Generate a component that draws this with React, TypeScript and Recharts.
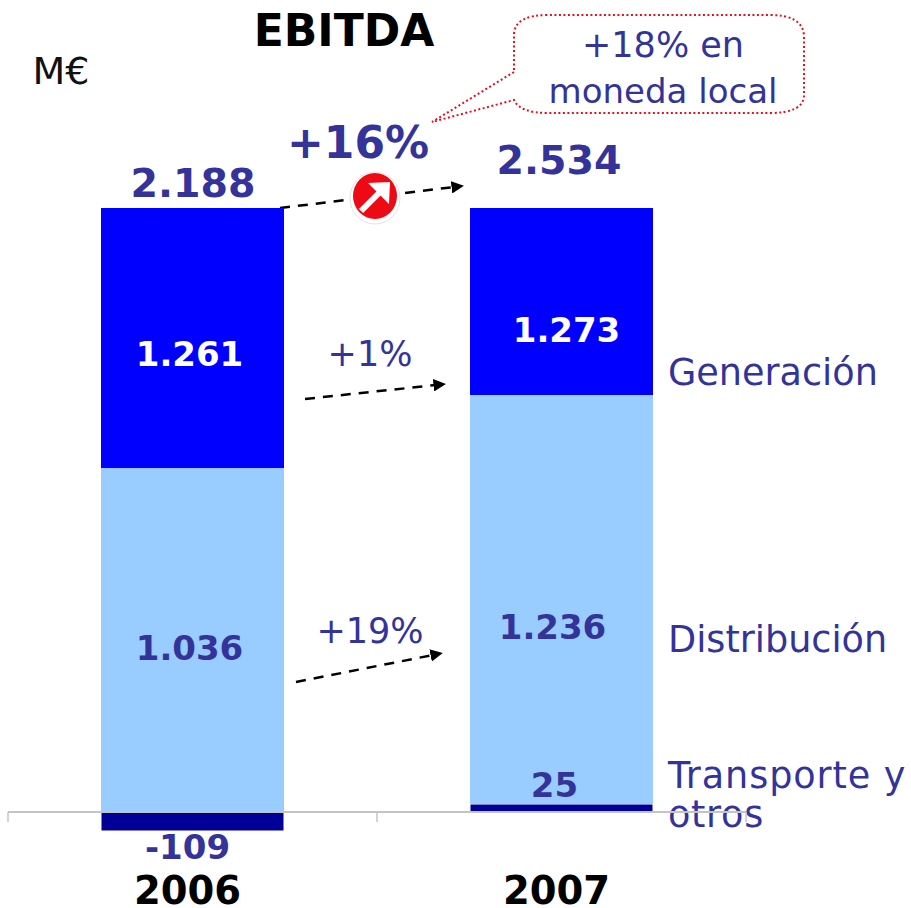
import { BarChart, Bar, XAxis, YAxis, LabelList, ReferenceLine } from 'recharts'

const FONT = '"DejaVu Sans", Verdana, sans-serif'
const INK = '#333399'

const categories = ['2006', '2007']

// The source slide's bars are not drawn to scale against their printed figures,
// so segment lengths (as measured on the picture) and printed labels are kept apart.
const generacionLength = [260, 187]
const distribucionLength = [344, 409]
const transporteLength = [-19, 8]

const generacionLabels = ['1.261', '1.273']
const distribucionLabels = ['1.036', '1.236']
const transporteLabels = ['-109', '25']

const slotCentres = [0.5, 1.5]
const slotTicks = [0, 1, 2]

const data = categories.map((name, i) => ({
  name,
  slot: slotCentres[i],
  generacion: generacionLength[i],
  distribucion: distribucionLength[i],
  transporte: transporteLength[i],
  generacionLabel: generacionLabels[i],
  distribucionLabel: distribucionLabels[i],
  transporteLabel: transporteLabels[i],
}))

// label nudge from the segment centre, per category
const segmentLabel =
  (color: string, dx: number[], dy: number[]) =>
  (props: any) => {
    const { x, y, width, height, value, index } = props
    return (
      <text
        x={x + width / 2 + dx[index]}
        y={y + height / 2 + dy[index]}
        textAnchor="middle"
        dominantBaseline="central"
        fontFamily={FONT}
        fontWeight="bold"
        fontSize={34}
        fill={color}
      >
        {value}
      </text>
    )
  }

const YearTick = ({ x, y, payload }: any) => (
  <text x={x - 5} y={y + 25} textAnchor="middle" fontFamily={FONT} fontWeight="bold" fontSize={38.5} fill="#000">
    {payload.value}
  </text>
)

const Arrow = ({ x1, y1, x2, y2 }: { x1: number; y1: number; x2: number; y2: number }) => (
  <line
    x1={x1}
    y1={y1}
    x2={x2}
    y2={y2}
    stroke="#000"
    strokeWidth={2.5}
    strokeDasharray="10 8"
    markerEnd="url(#arrowHead)"
  />
)

const Txt = ({ x, y, size, bold, anchor, fill, spacing, children }: any) => (
  <text
    x={x}
    y={y}
    fontFamily={FONT}
    fontSize={size}
    fontWeight={bold ? 'bold' : 'normal'}
    textAnchor={anchor ?? 'middle'}
    fill={fill ?? INK}
    letterSpacing={spacing}
  >
    {children}
  </text>
)

export default function App() {
  return (
    <div style={{ position: 'absolute', left: 0, top: 0, width: 911, height: 908, background: '#fff' }}>
      <BarChart
        width={911}
        height={908}
        data={data}
        stackOffset="sign"
        barSize={183}
        margin={{ top: 208, right: 165, bottom: 0, left: 8 }}
      >
        <defs>
          <marker id="arrowHead" markerWidth="6" markerHeight="5" refX="1" refY="2.5" orient="auto">
            <path d="M0 0 L5 2.5 L0 5 Z" fill="#000" />
          </marker>
        </defs>
        <XAxis
          xAxisId="cat"
          dataKey="name"
          height={77}
          axisLine={false}
          tickLine={false}
          tickMargin={42}
          interval={0}
          tick={<YearTick />}
        />
        <XAxis xAxisId="slots" dataKey="slot" type="number" domain={[0, 2]} allowDataOverflow hide />
        <YAxis hide domain={[-19, 604]} />

        <Bar xAxisId="cat" dataKey="transporte" stackId="a" fill="#000099" stroke="#fff" strokeWidth={1} isAnimationActive={false}>
          <LabelList dataKey="transporteLabel" content={segmentLabel(INK, [-5, -7], [25, -23])} />
        </Bar>
        <Bar xAxisId="cat" dataKey="distribucion" stackId="a" fill="#99ccff" isAnimationActive={false}>
          <LabelList dataKey="distribucionLabel" content={segmentLabel(INK, [-3, -9], [8, 27])} />
        </Bar>
        <Bar xAxisId="cat" dataKey="generacion" stackId="a" fill="#0000ff" isAnimationActive={false}>
          <LabelList dataKey="generacionLabel" content={segmentLabel('#fff', [-3, 5], [16, 28])} />
        </Bar>

        <ReferenceLine xAxisId="cat" y={0} stroke="#c4c4c4" strokeWidth={2} ifOverflow="visible" />
        {slotTicks.map((t) => (
          <ReferenceLine
            key={t}
            xAxisId="slots"
            segment={[
              { x: t, y: 0 },
              { x: t, y: -10 },
            ]}
            stroke="#c4c4c4"
            strokeWidth={1.5}
            ifOverflow="visible"
          />
        ))}

        <Txt x={344} y={46} size={44} bold fill="#000">EBITDA</Txt>
        <Txt x={61} y={84} size={38} fill="#111">M€</Txt>
        <Txt x={193} y={197} size={39.5} bold>2.188</Txt>
        <Txt x={559} y={174} size={39.5} bold>2.534</Txt>
        <Txt x={358} y={158} size={44} bold>+16%</Txt>
        <Txt x={370} y={366} size={35}>+1%</Txt>
        <Txt x={370} y={643} size={35}>+19%</Txt>

        <Txt x={668} y={385} size={36.6} anchor="start">Generación</Txt>
        <Txt x={668} y={652} size={36.6} anchor="start">Distribución</Txt>
        <Txt x={668} y={788} size={36.6} anchor="start" spacing={0.9}>Transporte y</Txt>
        <Txt x={668} y={827} size={36.6} anchor="start" spacing={0.7}>otros</Txt>

        <path
          d="M514 72 L432 122 L514 100 Q520 113 548 113 L770 113 Q803 113 804 96 L804 36 Q803 15 770 15 L548 15 Q515 15 514 34 Z"
          fill="none"
          stroke="#e01020"
          strokeWidth={2}
          strokeDasharray="2 2.5"
        />
        <Txt x={663} y={57} size={35}>+18% en</Txt>
        <Txt x={663} y={103} size={34}>moneda local</Txt>

        <Arrow x1={280} y1={208} x2={454} y2={187} />
        <Arrow x1={305} y1={399} x2={436} y2={385} />
        <Arrow x1={296} y1={682} x2={433} y2={655} />

        <ellipse cx={375} cy={198} rx={25} ry={26} fill="#fff" stroke="#e4e4e4" strokeWidth={1} />
        <ellipse cx={375} cy={196} rx={22} ry={23} fill="#ee0a14" />
        <path d="M361 211 L381 191" stroke="#fff" strokeWidth={6} />
        <path d="M368 183 L390 182 L389 204 Z" fill="#fff" />
      </BarChart>
    </div>
  )
}
